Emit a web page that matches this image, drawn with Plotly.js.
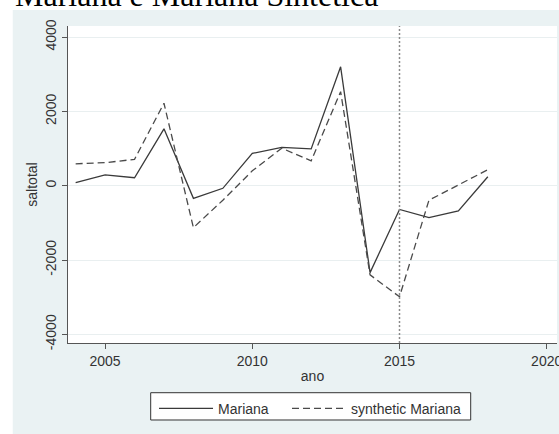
<!DOCTYPE html>
<html>
<head>
<meta charset="utf-8">
<script src="https://cdn.plot.ly/plotly-3.0.1.min.js"></script>
<style>html,body{margin:0;padding:0;background:#fff;}#chart{width:559px;height:434px;}</style>
</head>
<body>
<div id="chart"></div>
<script>
// ---- data ----
var years = [2004, 2005, 2006, 2007, 2008, 2009, 2010, 2011, 2012, 2013, 2014, 2015, 2016, 2017, 2018];
var mariana = [80, 290, 215, 1530, -340, -70, 870, 1030, 990, 3200, -2340, -640, -860, -680, 240];
var syntheticMariana = [590, 620, 710, 2220, -1130, -390, 400, 1010, 670, 2530, -2400, -2990, -390, 10, 430];
var seriesNames = ["Mariana", "synthetic Mariana"];
var xTicks = [2005, 2010, 2015, 2020];
var yTicks = [-4000, -2000, 0, 2000, 4000];
var treatmentYear = 2015;
var chartTitle = "Mariana e Mariana Sintética";
var xTitle = "ano";
var yTitle = "saltotal";

var font = "Liberation Sans, Arial, sans-serif";
var txt = "#333";
var fs = 14;

var traces = [
  {x: years, y: mariana, name: seriesNames[0], type: "scatter", mode: "lines", legend: "legend",
   line: {color: "#3a3a3a", width: 1.3}},
  {x: years, y: syntheticMariana, name: seriesNames[1], type: "scatter", mode: "lines", legend: "legend2",
   line: {color: "#4a4a4a", width: 1.3, dash: "7px,4px"}}
];

function legendAt(xp) {
  return {
    orientation: "h", x: xp, xanchor: "left", y: -0.157, yanchor: "top",
    bgcolor: "rgba(0,0,0,0)", borderwidth: 0,
    font: {family: font, size: fs, color: txt},
    itemwidth: 54
  };
}

var layout = {
  width: 559, height: 434,
  margin: {l: 68, r: 2, t: 26, b: 91, pad: 0},
  paper_bgcolor: "#eaf2f3",
  plot_bgcolor: "#ffffff",
  showlegend: true,
  font: {family: font, size: fs, color: txt},
  xaxis: {
    range: [2003.74, 2020.35], tickvals: xTicks, ticktext: xTicks.map(String),
    ticklabeloverflow: "allow",
    showgrid: false, zeroline: false, showline: true, linecolor: "#555", linewidth: 1,
    ticks: "outside", ticklen: 5, tickcolor: "#555", tickwidth: 1,
    tickfont: {family: font, size: fs, color: txt},
    title: {text: xTitle, standoff: 3, font: {family: font, size: fs, color: txt}},
    automargin: false
  },
  yaxis: {
    range: [-4234, 4299], tickvals: yTicks, ticktext: yTicks.map(String),
    tickangle: -90,
    showgrid: true, gridcolor: "#e9eff0", gridwidth: 1,
    zeroline: false, showline: true, linecolor: "#555", linewidth: 1,
    ticks: "outside", ticklen: 5, tickcolor: "#555", tickwidth: 1,
    tickfont: {family: font, size: fs, color: txt},
    title: {text: yTitle, standoff: 2, font: {family: font, size: fs, color: txt}},
    automargin: false
  },
  legend: legendAt(0.1759),
  legend2: legendAt(0.4479),
  shapes: [
    {type: "rect", xref: "paper", yref: "paper", layer: "below",
     x0: -0.2, x1: 1.1, y0: 1.0505, y1: 1.2, fillcolor: "#ffffff", line: {width: 0}},
    {type: "rect", xref: "paper", yref: "paper", layer: "below",
     x0: -0.2, x1: -0.113, y0: -0.4, y1: 1.2, fillcolor: "#ffffff", line: {width: 0}},
    {type: "line", xref: "x", yref: "paper", x0: treatmentYear, x1: treatmentYear, y0: 0, y1: 1,
     line: {color: "#8a8a8a", width: 1.5, dash: "2px,2px"}},
    // legend frame
    {type: "rect", xref: "paper", yref: "paper", layer: "above",
     x0: 0.1691, x1: 0.8235, y0: -0.2429, y1: -0.1568,
     fillcolor: "#ffffff", line: {color: "#333", width: 1}}
  ],
  annotations: [
    {text: chartTitle, xref: "paper", yref: "paper", x: -0.113, xanchor: "left",
     y: 1.098, yanchor: "middle", showarrow: false,
     font: {family: "Liberation Serif, Times New Roman, serif", size: 32, color: "#000"}}
  ]
};

Plotly.newPlot("chart", traces, layout, {staticPlot: true, displayModeBar: false});
</script>
</body>
</html>
